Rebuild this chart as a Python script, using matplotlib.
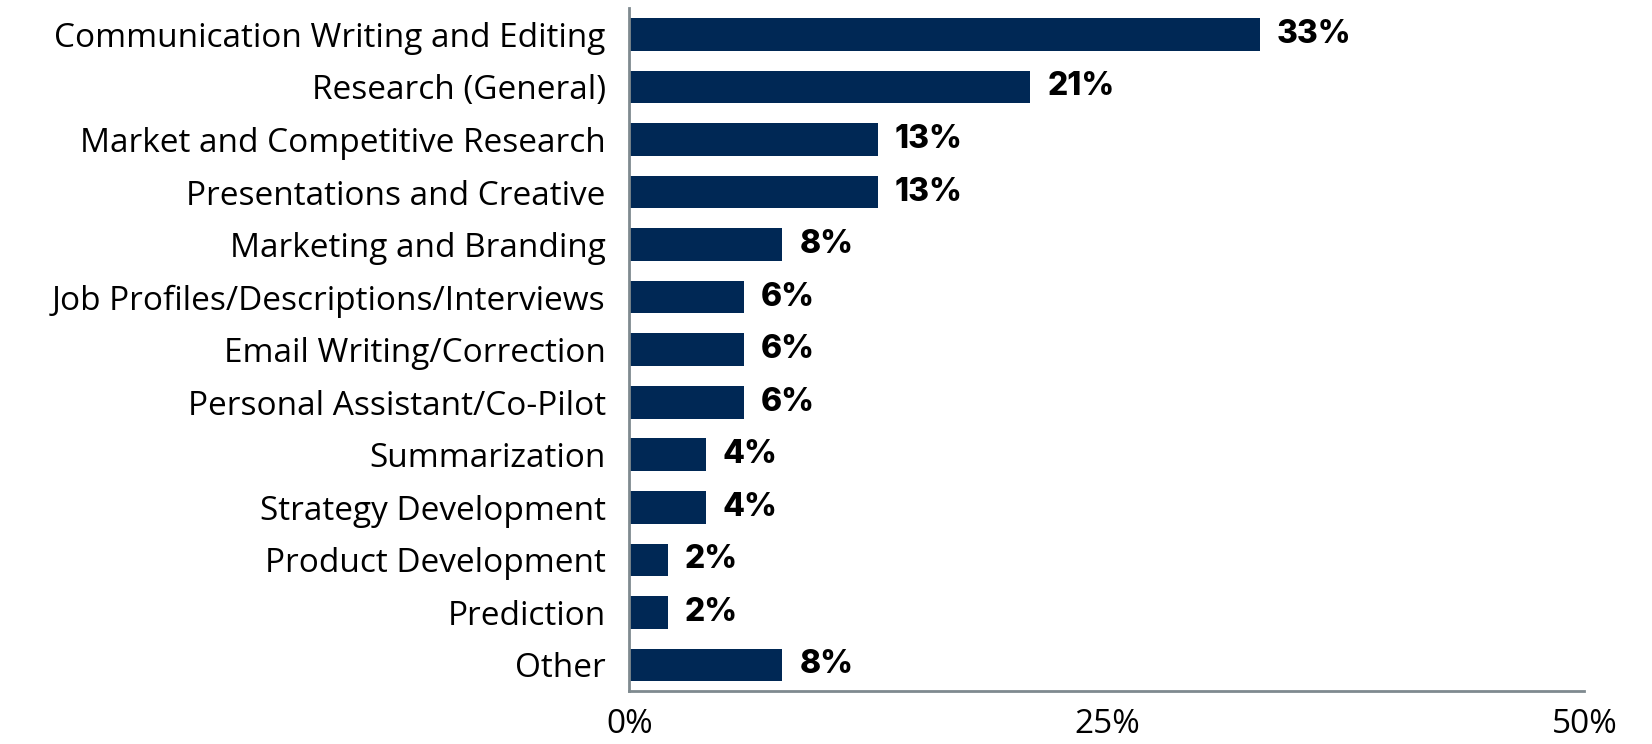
import matplotlib.pyplot as plt
import numpy as np

categories = [
    "Communication Writing and Editing",
    "Research (General)",
    "Market and Competitive Research",
    "Presentations and Creative",
    "Marketing and Branding",
    "Job Profiles/Descriptions/Interviews",
    "Email Writing/Correction",
    "Personal Assistant/Co-Pilot",
    "Summarization",
    "Strategy Development",
    "Product Development",
    "Prediction",
    "Other",
]
shares = [33, 21, 13, 13, 8, 6, 6, 6, 4, 4, 2, 2, 8]
xticks = [0, 25, 50]

navy = "#002855"
axis_grey = "#7f8a8f"

fig = plt.figure(figsize=(16.52, 7.44), dpi=100)
ax = fig.add_axes([0.381, 0.071, 0.578, 0.918])

y = np.arange(len(categories))
ax.barh(y, shares, height=0.62, color=navy)

# bold value labels just past each bar
for yi, v in zip(y, shares):
    ax.text(v + 0.9, yi, f"{v}%", va="center", ha="left",
            fontsize=23, fontweight="heavy", family="Inter", color="black")

ax.set_ylim(len(categories) - 0.5, -0.5)
ax.set_xlim(0, 50)
ax.set_yticks(y)
ax.set_yticklabels(categories, fontsize=24, family="Open Sans", color="black")
ax.set_xticks(xticks)
ax.set_xticklabels([f"{t}%" for t in xticks], fontsize=24, family="Open Sans")

ax.tick_params(axis="both", length=0)
ax.tick_params(axis="y", pad=17)
ax.tick_params(axis="x", pad=12)

for side in ["top", "right"]:
    ax.spines[side].set_visible(False)
for side in ["left", "bottom"]:
    ax.spines[side].set_color(axis_grey)
    ax.spines[side].set_linewidth(2)

fig.savefig("out.png", dpi=100)
